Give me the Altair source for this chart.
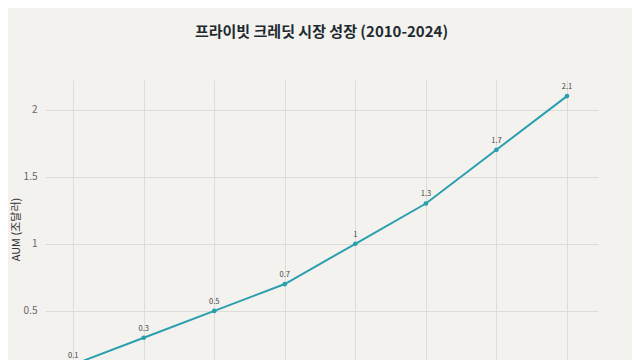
import altair as alt
import pandas as pd

years = [2010, 2012, 2014, 2016, 2018, 2020, 2022, 2024]
aum = [0.1, 0.3, 0.5, 0.7, 1.0, 1.3, 1.7, 2.1]
labels = ["0.1", "0.3", "0.5", "0.7", "1", "1.3", "1.7", "2.1"]
y_ticks = [0.5, 1, 1.5, 2]

df = pd.DataFrame({"연도": years, "AUM": aum, "label": labels})

FONT = "Noto Sans CJK KR"
COLOR = "#2a9fae"

x = alt.X("연도:Q", scale=alt.Scale(domain=[2009.2, 2024.88], nice=False, zero=False),
          axis=alt.Axis(values=years, labels=False, title=None, domain=False, ticks=False,
                        gridColor="#dcdcd8"))
y = alt.Y("AUM:Q", scale=alt.Scale(domain=[0, 2.22], nice=False),
          axis=alt.Axis(values=y_ticks, format="~g", title="AUM (조달러)",
                        domain=False, ticks=False, gridColor="#dcdcd8",
                        labelColor="#666", labelFontSize=10, labelPadding=8,
                        titleColor="#333", titleFontSize=11, titleFontWeight="normal",
                        titlePadding=2))

base = alt.Chart(df).encode(x=x, y=y)
line = base.mark_line(color=COLOR, strokeWidth=2)
pts = base.mark_point(color=COLOR, filled=True, size=22, opacity=1)
txt = base.mark_text(dy=-9, fontSize=7.5, color="#444", font=FONT).encode(text="label:N")

chart = (line + pts + txt).properties(
    width=553, height=298,
    background="#f3f2ee",
    autosize=alt.AutoSizeParams(type="none"),
    padding={"left": 37, "top": 72, "right": 34, "bottom": 0},
    title=alt.TitleParams("프라이빗 크레딧 시장 성장 (2010-2024)", fontSize=15,
                          fontWeight="bold", color="#1e2a30", font=FONT, offset=40,
                          anchor="middle"),
).configure_view(stroke=None).configure_axis(labelFont=FONT, titleFont=FONT)

chart.save("out.html", embed_options={"renderer": "svg", "actions": False})
